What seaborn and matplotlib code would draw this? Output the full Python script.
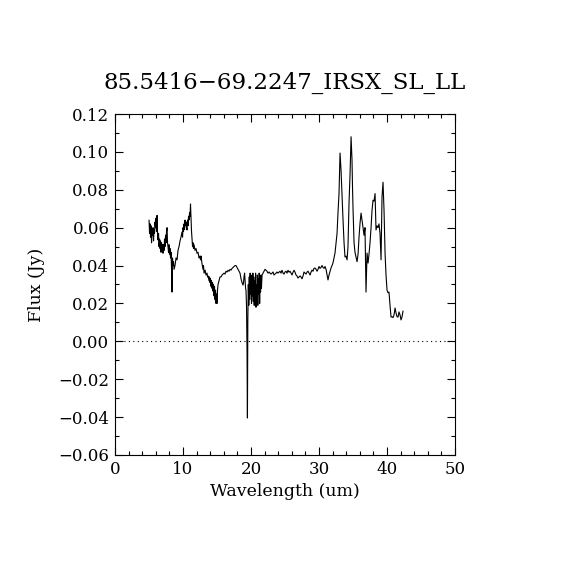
import numpy as np
import pandas as pd
import matplotlib
matplotlib.use("Agg")
import matplotlib.pyplot as plt
from matplotlib.ticker import MultipleLocator
import seaborn as sns

# Spectrum
wavelength = [
    5.00, 5.08, 5.15, 5.22, 5.29, 5.37, 5.44, 5.52, 5.59, 5.66, 5.74, 5.81, 5.88, 5.96,
    6.03, 6.10, 6.18, 6.25, 6.32, 6.40, 6.47, 6.55, 6.62, 6.69, 6.76, 6.84, 6.91, 6.99,
    7.06, 7.13, 7.21, 7.28, 7.35, 7.43, 7.50, 7.57, 7.65, 7.72, 7.79, 7.87, 7.94, 8.01,
    8.09, 8.16, 8.24, 8.31, 8.38, 8.45, 8.53, 8.60, 8.68, 8.82, 8.97, 9.12, 9.26, 9.41,
    9.56, 9.70, 9.85, 9.93, 10.00, 10.07, 10.15, 10.22, 10.29, 10.37, 10.44, 10.51, 10.59,
    10.66, 10.74, 10.81, 10.88, 10.96, 11.03, 11.10, 11.18, 11.25, 11.32, 11.40, 11.47,
    11.54, 11.62, 11.76, 11.91, 12.06, 12.21, 12.35, 12.50, 12.57, 12.65, 12.79, 12.94,
    13.01, 13.09, 13.24, 13.38, 13.53, 13.60, 13.68, 13.82, 13.90, 13.97, 14.04, 14.12,
    14.19, 14.26, 14.34, 14.41, 14.48, 14.56, 14.63, 14.71, 14.78, 14.85, 14.93, 15.00,
    15.07, 15.15, 15.29, 15.44, 15.59, 15.74, 15.88, 16.03, 16.18, 16.32, 16.47, 16.62,
    16.76, 16.91, 17.06, 17.21, 17.35, 17.50, 17.65, 17.79, 17.94, 18.09, 18.24, 18.38,
    18.53, 18.68, 18.82, 18.90, 18.97, 19.05, 19.12, 19.20, 19.26, 19.34, 19.41, 19.47,
    19.53, 19.60, 19.67, 19.74, 19.80, 19.87, 19.93, 20.00, 20.07, 20.13, 20.20, 20.27,
    20.33, 20.40, 20.47, 20.53, 20.60, 20.67, 20.73, 20.80, 20.87, 20.93, 21.00, 21.07,
    21.13, 21.20, 21.27, 21.33, 21.40, 21.47, 21.53, 21.62, 21.76, 21.91, 22.06, 22.21,
    22.35, 22.50, 22.65, 22.79, 22.94, 23.09, 23.24, 23.38, 23.53, 23.68, 23.82, 23.97,
    24.12, 24.26, 24.41, 24.56, 24.71, 24.85, 25.00, 25.15, 25.29, 25.44, 25.59, 25.74,
    25.88, 26.03, 26.18, 26.32, 26.47, 26.62, 26.76, 26.91, 27.06, 27.21, 27.35, 27.50,
    27.65, 27.79, 27.94, 28.09, 28.24, 28.38, 28.53, 28.68, 28.82, 28.97, 29.12, 29.26,
    29.41, 29.56, 29.71, 29.85, 30.00, 30.15, 30.29, 30.44, 30.59, 30.74, 30.88, 31.03,
    31.18, 31.32, 31.47, 31.62, 31.76, 31.91, 32.06, 32.21, 32.35, 32.50, 32.65, 32.79,
    32.94, 33.09, 33.16, 33.24, 33.38, 33.53, 33.68, 33.82, 33.97, 34.12, 34.26, 34.41,
    34.56, 34.71, 34.85, 34.93, 35.00, 35.15, 35.29, 35.44, 35.59, 35.74, 35.88, 36.03,
    36.18, 36.32, 36.47, 36.62, 36.76, 36.91, 37.06, 37.21, 37.35, 37.50, 37.65, 37.79,
    37.94, 38.09, 38.24, 38.38, 38.53, 38.68, 38.82, 38.97, 39.12, 39.26, 39.41, 39.56,
    39.71, 39.85, 40.00, 40.15, 40.29, 40.44, 40.59, 40.74, 40.88, 41.03, 41.18, 41.32,
    41.47, 41.62, 41.76, 41.91, 42.06, 42.21, 42.35,
]
flux = [
    0.064, 0.057, 0.062, 0.055, 0.061, 0.052, 0.058, 0.056, 0.060, 0.053, 0.059, 0.057, 0.063, 0.060,
    0.065, 0.058, 0.0665, 0.057, 0.0535, 0.057, 0.050, 0.054, 0.049, 0.053, 0.047, 0.052, 0.048, 0.051,
    0.0465, 0.051, 0.048, 0.054, 0.050, 0.056, 0.052, 0.058, 0.060, 0.052, 0.050, 0.047, 0.051, 0.046,
    0.049, 0.044, 0.047, 0.038, 0.026, 0.044, 0.040, 0.042, 0.038, 0.040, 0.044, 0.043, 0.048, 0.050,
    0.053, 0.055, 0.0577, 0.055, 0.060, 0.058, 0.062, 0.059, 0.064, 0.061, 0.063, 0.060, 0.0588,
    0.064, 0.061, 0.066, 0.064, 0.068, 0.066, 0.0725, 0.064, 0.058, 0.054, 0.050, 0.052,
    0.049, 0.051, 0.048, 0.049, 0.0465, 0.047, 0.044, 0.045, 0.043, 0.045, 0.041, 0.038,
    0.040, 0.036, 0.0376, 0.035, 0.036, 0.034, 0.0345, 0.032, 0.034, 0.031, 0.033, 0.029,
    0.032, 0.028, 0.031, 0.0265, 0.030, 0.024, 0.029, 0.022, 0.027, 0.020, 0.025, 0.020,
    0.027, 0.030, 0.032, 0.034, 0.034, 0.035, 0.0355, 0.036, 0.0355, 0.037, 0.0366, 0.0375,
    0.037, 0.038, 0.0376, 0.0385, 0.039, 0.0395, 0.040, 0.040, 0.039, 0.038, 0.037, 0.036,
    0.033, 0.031, 0.0297, 0.031, 0.034, 0.036, 0.032, 0.028, 0.027, 0.018, -0.0046, -0.0405,
    0.011, 0.030, 0.019, 0.034, 0.022, 0.036, 0.025, 0.035, 0.020, 0.033, 0.024, 0.036,
    0.021, 0.034, 0.019, 0.032, 0.023, 0.036, 0.018, 0.030, 0.022, 0.035, 0.019, 0.033,
    0.025, 0.036, 0.020, 0.034, 0.026, 0.035, 0.028, 0.035, 0.036, 0.037, 0.038, 0.0375,
    0.037, 0.036, 0.0366, 0.036, 0.0355, 0.036, 0.0366, 0.035, 0.0355, 0.036, 0.0366, 0.036,
    0.0365, 0.037, 0.036, 0.0375, 0.036, 0.0355, 0.0366, 0.037, 0.036, 0.0375, 0.0365, 0.037,
    0.036, 0.035, 0.0365, 0.0375, 0.0365, 0.035, 0.0345, 0.0334, 0.034, 0.0345, 0.034, 0.033,
    0.0345, 0.0366, 0.036, 0.0355, 0.0366, 0.037, 0.036, 0.035, 0.0365, 0.0376, 0.037, 0.0385,
    0.0387, 0.038, 0.037, 0.038, 0.0395, 0.0385, 0.039, 0.040, 0.039, 0.0385, 0.0395, 0.038,
    0.035, 0.0324, 0.035, 0.037, 0.0387, 0.040, 0.0415, 0.044, 0.0466, 0.052, 0.057, 0.068,
    0.078, 0.0994, 0.095, 0.090, 0.077, 0.064, 0.052, 0.0445, 0.045, 0.043, 0.050, 0.073,
    0.088, 0.108, 0.0957, 0.080, 0.070, 0.052, 0.047, 0.0445, 0.042, 0.046, 0.055, 0.0624,
    0.0677, 0.064, 0.060, 0.056, 0.060, 0.026, 0.0466, 0.0413, 0.046, 0.052, 0.060, 0.069,
    0.0745, 0.074, 0.078, 0.0588, 0.061, 0.060, 0.062, 0.057, 0.043, 0.076, 0.084, 0.069,
    0.0466, 0.035, 0.027, 0.0256, 0.026, 0.019, 0.0128, 0.013, 0.0125, 0.014, 0.0176, 0.015,
    0.013, 0.0128, 0.0155, 0.014, 0.0113, 0.013, 0.016,
]

title = "85.5416\u221269.2247_IRSX_SL_LL"

df = pd.DataFrame({"wavelength": wavelength, "flux": flux})

sns.set_style("ticks")
plt.rcParams["font.family"] = ["DejaVu Serif"]
plt.rcParams["axes.unicode_minus"] = True
plt.rcParams["text.color"] = "black"
plt.rcParams["axes.labelcolor"] = "black"
plt.rcParams["xtick.color"] = "black"
plt.rcParams["ytick.color"] = "black"

fig = plt.figure(figsize=(5.7, 5.7), dpi=100)
ax = fig.add_axes([0.2018, 0.2018, 0.5965, 0.5982])

sns.lineplot(data=df, x="wavelength", y="flux", sort=False, estimator=None,
             color="black", linewidth=0.8, ax=ax)
ax.axhline(0, color="black", linestyle=(0, (1, 3)), linewidth=0.8)

ax.set_xlim(0, 50)
ax.set_ylim(-0.06, 0.12)
ax.xaxis.set_major_locator(MultipleLocator(10))
ax.xaxis.set_minor_locator(MultipleLocator(2))
ax.yaxis.set_major_locator(MultipleLocator(0.02))
ax.yaxis.set_minor_locator(MultipleLocator(0.01))
ax.yaxis.set_major_formatter(lambda v, p: f"{v:.2f}".replace("-", "\u2212"))

ax.tick_params(which="both", direction="in", top=True, right=True,
               color="black", labelcolor="black", width=0.8, labelsize=12)
ax.tick_params(which="major", length=6, pad=4)
ax.tick_params(which="minor", length=3)
for s in ax.spines.values():
    s.set_color("black")
    s.set_linewidth(0.8)

ax.set_xlabel("Wavelength (um)", fontsize=12.5, labelpad=4)
ax.set_ylabel("Flux (Jy)", fontsize=12.5, labelpad=10)
ax.set_title(title, fontsize=16.5, pad=18)

fig.savefig("out.png", dpi=100, facecolor="white")
